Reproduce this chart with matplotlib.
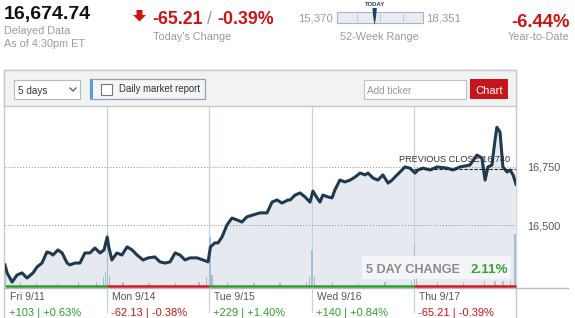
import matplotlib
matplotlib.use("Agg")
import matplotlib.pyplot as plt
from matplotlib.patches import Rectangle, Polygon
import matplotlib.transforms as mtransforms

plt.rcParams['font.family'] = ['Liberation Sans', 'DejaVu Sans']

# ---------------- data ----------------
# trading minutes since the Fri 9/11 open (390 minutes per session)
times = [0, 8, 27, 46, 65, 84, 107, 122, 141, 160, 172, 183, 202, 218, 237, 248, 267, 286, 305, 324,
         343, 363, 378, 390, 396, 408, 427, 446, 466, 485, 504, 527, 546, 572, 591, 611, 630, 649, 668, 687,
         706, 733, 756, 775, 784, 801, 813, 828, 847, 866, 885, 904, 923, 946, 973, 1000, 1019, 1038, 1057, 1080,
         1088, 1107, 1126, 1145, 1164, 1175, 1191, 1202, 1213, 1233, 1248, 1259, 1278, 1297, 1317, 1336, 1355, 1374, 1385, 1404,
         1423, 1442, 1462, 1477, 1496, 1507, 1526, 1545, 1565, 1576, 1595, 1622, 1649, 1687, 1710, 1736, 1774, 1801, 1820, 1832,
         1843, 1858, 1870, 1877, 1889, 1900, 1916, 1927, 1939, 1950]
prices = [16331, 16297, 16258, 16288, 16297, 16275, 16297, 16322, 16339, 16386, 16382, 16373, 16395, 16382, 16339, 16331, 16339, 16339, 16382, 16382,
          16403, 16382, 16395, 16450, 16408, 16352, 16382, 16373, 16408, 16395, 16373, 16352, 16361, 16365, 16344, 16339, 16344, 16382, 16373, 16352,
          16361, 16361, 16352, 16344, 16408, 16425, 16425, 16450, 16501, 16531, 16523, 16514, 16536, 16544, 16553, 16553, 16599, 16608, 16595, 16608,
          16608, 16629, 16638, 16621, 16599, 16646, 16617, 16599, 16629, 16621, 16617, 16651, 16693, 16685, 16693, 16706, 16723, 16715, 16723, 16702,
          16693, 16715, 16680, 16693, 16715, 16727, 16749, 16744, 16723, 16736, 16744, 16736, 16749, 16744, 16736, 16749, 16757, 16800, 16787, 16693,
          16749, 16757, 16864, 16918, 16898, 16749, 16727, 16736, 16715, 16675]

vol_times = [3, 60, 120, 200, 280, 350, 375, 384, 392, 400, 450, 550, 650, 740, 770, 782, 790, 850, 950, 1050,
             1150, 1162, 1172, 1180, 1250, 1350, 1450, 1550, 1562, 1570, 1650, 1750, 1830, 1870, 1900, 1930, 1946]
vol_values = [8, 2, 1.5, 1.5, 2, 2, 5, 8, 30, 6, 2, 1.5, 1.5, 2, 5, 27, 6, 2.5, 1.5, 1.5,
              2, 5, 20, 5, 2, 1.5, 2, 3, 23, 5, 2, 2, 3, 3, 3, 3, 29]

day_labels = ["Fri 9/11", "Mon 9/14", "Tue 9/15", "Wed 9/16", "Thu 9/17"]
day_changes = ["+103 | +0.63%", "-62.13 | -0.38%", "+229 | +1.40%", "+140 | +0.84%", "-65.21 | -0.39%"]
day_up = [True, False, True, True, False]
session_minutes = 390

y_ticks = [16500, 16750]
y_tick_labels = ["16,500", "16,750"]
y_range = (16241, 17009)
prev_close = 16740
prev_close_label = "PREVIOUS CLOSE 16,740"

last_price = 16674.74
last_label = "16,674.74"
today_change = "-65.21"
today_pct = "-0.39%"
wk52_low, wk52_high = 15370, 18351
wk52_low_label, wk52_high_label = "15,370", "18,351"
ytd = "-6.44%"
five_day = "2.11%"

# ---------------- style ----------------
W, H = 575, 318
RED = '#cc1414'
GREEN = '#2e9e2e'
GRAY = '#9a9a9a'
NAVY = '#1d3a50'

fig = plt.figure(figsize=(W / 100, H / 100), dpi=100)
fig.patch.set_facecolor('white')

bg = fig.add_axes([0, 0, 1, 1], zorder=0)
bg.set_xlim(0, W)
bg.set_ylim(H, 0)
bg.axis('off')

# panel & toolbar
bg.add_patch(Rectangle((4, 70), 512, 260, fc='white', ec='#c8c8c8', lw=1))
bg.add_patch(Rectangle((4, 70), 512, 36, fc='#f1f2f2', ec='#c8c8c8', lw=1))
# 5 days dropdown
bg.add_patch(Rectangle((14, 80), 66, 19, fc='white', ec='#b8b8b8', lw=0.8))
bg.text(18, 93.5, "5 days", fontsize=7.2, color='#333', va='baseline')
bg.plot([70, 73, 76], [88, 91, 88], color='#555', lw=0.9)
# daily market report
bg.add_patch(Rectangle((90, 79), 115, 20, fc='#f4f5f6', ec='#8fa3b8', lw=0.9))
bg.add_patch(Rectangle((90, 79), 3, 20, fc='#5b9bd0', ec='none'))
bg.add_patch(Rectangle((101, 84), 11, 11, fc='white', ec='#777', lw=0.8))
bg.text(119, 92.5, "Daily market report", fontsize=6.9, color='#333', va='baseline')
# add ticker
bg.add_patch(Rectangle((364, 80), 102, 19, fc='white', ec='#c0c0c0', lw=0.8))
bg.text(367, 93.5, "Add ticker", fontsize=7.2, color='#999', va='baseline')
bg.add_patch(Rectangle((470, 79), 38, 20, fc='#c4161c', ec='none'))
bg.text(489, 93.5, "Chart", fontsize=8, color='white', va='baseline', ha='center')

# header
bg.text(4, 19, last_label, fontsize=14, fontweight='bold', color='#111', va='baseline')
bg.text(4, 34.3, "Delayed Data", fontsize=7.8, color=GRAY, va='baseline')
bg.text(4, 47, "As of 4:30pm ET", fontsize=7.8, color=GRAY, va='baseline')
bg.add_patch(Polygon([(136.5, 10), (142.5, 10), (142.5, 15), (146, 15), (139.5, 21.5), (133, 15), (136.5, 15)],
                     closed=True, fc=RED, ec='none'))
bg.text(152, 24, today_change, fontsize=12.8, fontweight='bold', color=RED, va='baseline')
bg.text(207, 24, "/", fontsize=12.8, color=GRAY, va='baseline')
bg.text(217, 24, today_pct, fontsize=12.8, fontweight='bold', color=RED, va='baseline')
bg.text(153, 40.5, "Today's Change", fontsize=7.8, color=GRAY, va='baseline')

# 52-week range
bx0, bw = 337, 86
bg.text(333, 21.7, wk52_low_label, fontsize=8.2, color=GRAY, va='baseline', ha='right')
bg.text(426, 21.7, wk52_high_label, fontsize=8.2, color=GRAY, va='baseline', ha='left')
bg.add_patch(Rectangle((bx0, 11.7), bw, 11, fc='#e6ecf2', ec='#aab4bf', lw=0.8))
for tx in (357, 380, 403):
    bg.plot([tx, tx], [14, 21], color='#c0c8d0', lw=0.7)
mx = bx0 + (last_price - wk52_low) / (wk52_high - wk52_low) * bw
bg.add_patch(Polygon([(mx - 2.2, 8), (mx + 2.2, 8), (mx + 1.4, 17), (mx, 25), (mx - 1.4, 17)],
                     closed=True, fc='#1e3f66', ec='none'))
bg.text(mx, 6.3, "TODAY", fontsize=4.3, fontweight='bold', color='#1e3f66', va='baseline', ha='center')
bg.text(379, 40.5, "52-Week Range", fontsize=7.8, color=GRAY, va='baseline', ha='center')

bg.text(570, 26.7, ytd, fontsize=13.3, fontweight='bold', color=RED, va='baseline', ha='right')
bg.text(570, 40.5, "Year-to-Date", fontsize=7.8, color=GRAY, va='baseline', ha='right')

# gray baseline under chart
bg.plot([4, 568], [287.5, 287.5], color='#b8b8b8', lw=1)

# ---------------- chart axes ----------------
pos = [5 / W, (H - 286) / H, 511 / W, 180 / H]
x_range = (0, session_minutes * len(day_labels))

axf = fig.add_axes(pos, zorder=1)
axf.set_facecolor('none')
axf.set_xlim(*x_range)
axf.set_ylim(*y_range)
axf.axis('off')
axf.fill_between(times, prices, y_range[0], color='#e6eaf0', lw=0)
trf = mtransforms.blended_transform_factory(axf.transData, axf.transAxes)
for i in range(1, len(day_labels)):
    axf.plot([i * session_minutes] * 2, [-0.145, 1], transform=trf, color='#c9d1da', lw=0.9, clip_on=False)
for yv in y_ticks:
    axf.axhline(yv, color='#8a8a8a', lw=0.7, ls=(0, (1, 2)))

vax = fig.add_axes(pos, zorder=2, sharex=axf)
vax.set_facecolor('none')
vax.set_ylim(0, 100)
vax.axis('off')
vax.bar(vol_times, vol_values, width=5, color='#a9bdd0', lw=0)

ax = fig.add_axes(pos, zorder=3, sharex=axf)
ax.set_facecolor('none')
ax.set_ylim(*y_range)
ax.plot(times, prices, color=NAVY, lw=2.2, solid_joinstyle='round')
ax.plot([session_minutes * (len(day_labels) - 1), x_range[1]], [prev_close, prev_close],
        color='#222', lw=0.8, ls=(0, (3, 1.5)))
ax.text(1927, prev_close + 22, prev_close_label, fontsize=6.6, color='#333', ha='right', va='bottom')
for s in ax.spines.values():
    s.set_visible(False)
ax.set_xticks([])
ax.yaxis.tick_right()
ax.set_yticks(y_ticks, y_tick_labels)
ax.tick_params(axis='y', length=0, pad=8, labelsize=7.8, labelcolor='#555')

tr = mtransforms.blended_transform_factory(ax.transData, ax.transAxes)
for i, (lab, chg, up) in enumerate(zip(day_labels, day_changes, day_up)):
    x0 = i * session_minutes
    ax.plot([x0, x0 + session_minutes], [0, 0], transform=tr, color=GREEN if up else '#d0191f',
            lw=1.8, solid_capstyle='butt', clip_on=False)
    ax.text(x0 + 19, -0.062, lab, transform=tr, fontsize=7.5, color='#555', va='center', ha='left')
    ax.text(x0 + 15, -0.148, chg, transform=tr, fontsize=8, color=GREEN if up else RED, va='center', ha='left')

# 5 day change box
fg = fig.add_axes([0, 0, 1, 1], zorder=5)
fg.set_facecolor('none')
fg.set_xlim(0, W)
fg.set_ylim(H, 0)
fg.axis('off')
fg.add_patch(Rectangle((362, 256), 149, 23, fc='#f7f8fa', ec='none', alpha=0.85))
fg.text(366, 273, "5 DAY CHANGE", fontsize=9.1, fontweight='bold', color='#8a8a8a', va='baseline')
fg.text(508, 273, five_day, fontsize=9.6, fontweight='bold', color='#33a531', va='baseline', ha='right')

fig.savefig("out.png", dpi=100)
